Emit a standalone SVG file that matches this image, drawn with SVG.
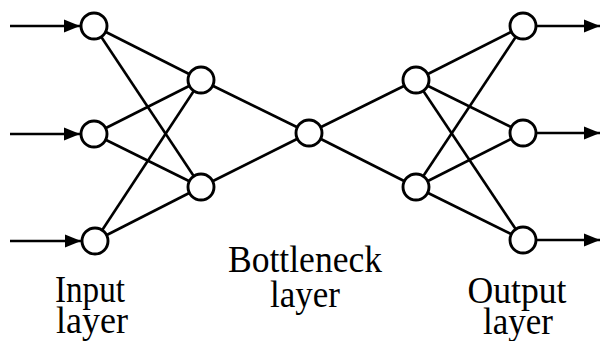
<svg xmlns="http://www.w3.org/2000/svg" width="600" height="341" viewBox="0 0 600 341">
<style>
.node circle{fill:#fff;stroke:#000;stroke-width:2.9}
.edges line{stroke:#000;stroke-width:2.6}
.arr{stroke:#000;stroke-width:2.6;marker-end:url(#ah)}
text{font-family:"Liberation Serif","Times New Roman",serif;font-size:37px;fill:#000;text-anchor:middle}
</style>
<defs>
<marker id="ah" markerUnits="userSpaceOnUse" markerWidth="16" markerHeight="14" refX="16" refY="7" orient="auto">
<path d="M0,0.5 L16,7 L0,13.5 Z" fill="#000"/>
</marker>
</defs>
<g class="edges" id="connectors">
<line x1="94" y1="26" x2="201" y2="80"/>
<line x1="94" y1="26" x2="201" y2="187"/>
<line x1="94" y1="134" x2="201" y2="80"/>
<line x1="94" y1="134" x2="201" y2="187"/>
<line x1="95" y1="241" x2="201" y2="80"/>
<line x1="95" y1="241" x2="201" y2="187"/>
<line x1="201" y1="80" x2="309" y2="133"/>
<line x1="201" y1="187" x2="309" y2="133"/>
<line x1="309" y1="133" x2="416" y2="80"/>
<line x1="309" y1="133" x2="416" y2="187"/>
<line x1="416" y1="80" x2="523" y2="26"/>
<line x1="416" y1="80" x2="523" y2="133"/>
<line x1="416" y1="80" x2="523" y2="240"/>
<line x1="416" y1="187" x2="523" y2="26"/>
<line x1="416" y1="187" x2="523" y2="133"/>
<line x1="416" y1="187" x2="523" y2="240"/>
<line class="arr" x1="10" y1="26" x2="80" y2="26"/>
<line class="arr" x1="10" y1="134" x2="80" y2="134"/>
<line class="arr" x1="10" y1="241" x2="81" y2="241"/>
<line class="arr" x1="537" y1="26" x2="600" y2="26"/>
<line class="arr" x1="537" y1="133" x2="600" y2="133"/>
<line class="arr" x1="537" y1="240" x2="600" y2="240"/>
</g>
<g class="node" id="in1"><circle cx="94" cy="26" r="13"/></g>
<g class="node" id="in2"><circle cx="94" cy="134" r="13"/></g>
<g class="node" id="in3"><circle cx="95" cy="241" r="13"/></g>
<g class="node" id="h1a"><circle cx="201" cy="80" r="13"/></g>
<g class="node" id="h1b"><circle cx="201" cy="187" r="13"/></g>
<g class="node" id="bn"><circle cx="309" cy="133" r="13"/></g>
<g class="node" id="h2a"><circle cx="416" cy="80" r="13"/></g>
<g class="node" id="h2b"><circle cx="416" cy="187" r="13"/></g>
<g class="node" id="out1"><circle cx="523" cy="26" r="13"/></g>
<g class="node" id="out2"><circle cx="523" cy="133" r="13"/></g>
<g class="node" id="out3"><circle cx="523" cy="240" r="13"/></g>
<g id="labels">
<text x="90" y="302" textLength="70" lengthAdjust="spacingAndGlyphs">Input</text>
<text x="92" y="333" textLength="72" lengthAdjust="spacingAndGlyphs">layer</text>
<text x="305" y="272" textLength="154" lengthAdjust="spacingAndGlyphs">Bottleneck</text>
<text x="305" y="307" textLength="70" lengthAdjust="spacingAndGlyphs">layer</text>
<text x="517" y="303" textLength="99" lengthAdjust="spacingAndGlyphs">Output</text>
<text x="518" y="334" textLength="70" lengthAdjust="spacingAndGlyphs">layer</text>
</g>
</svg>
